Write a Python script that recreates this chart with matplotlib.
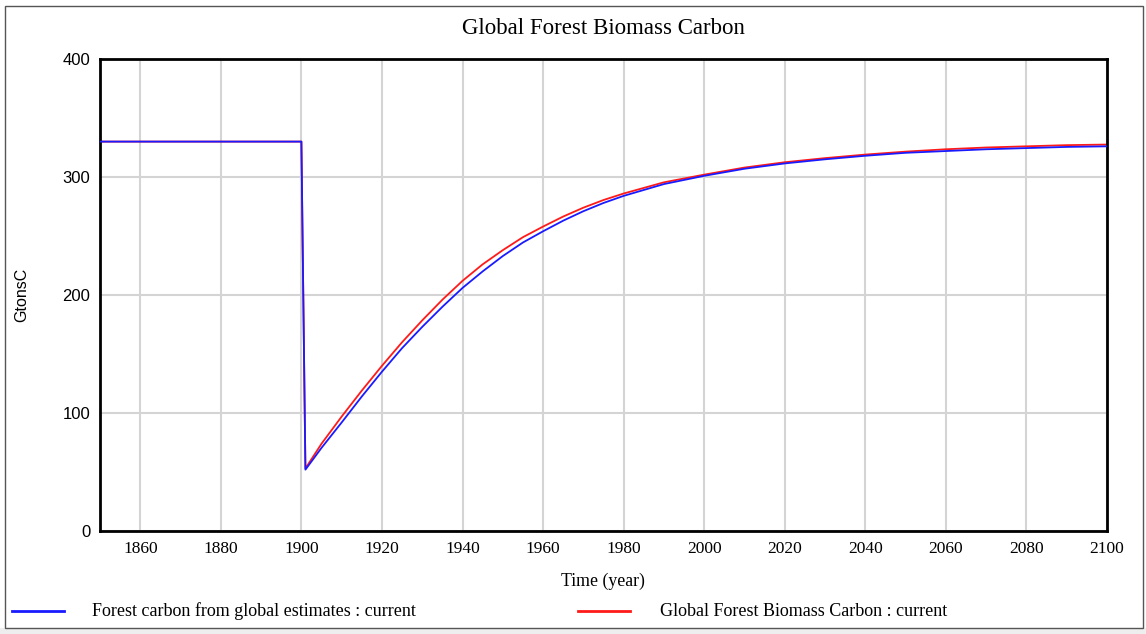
import matplotlib
matplotlib.use("Agg")
import matplotlib.pyplot as plt
from matplotlib.lines import Line2D
from matplotlib.patches import Rectangle

# Simulation output (GtonsC), sampled years
years = [1850, 1900, 1901, 1905, 1910, 1915, 1920, 1925, 1930, 1935, 1940,
         1945, 1950, 1955, 1960, 1965, 1970, 1975, 1980, 1990, 2000, 2010,
         2020, 2030, 2040, 2050, 2060, 2070, 2080, 2090, 2100]
forest_carbon_estimates = [330, 330, 52, 70.5, 92, 114, 135, 155, 173, 190, 206,
                           220, 233, 244.5, 254, 263, 271, 278, 284, 294, 301, 307,
                           311.5, 315, 318, 320.5, 322, 323.5, 324.5, 325.5, 326]
forest_biomass_carbon = [330, 330, 53, 74, 97, 119, 140, 160, 178.5, 196, 212,
                         226, 238, 249, 258, 266.5, 274, 280.5, 286, 295.5, 302, 308,
                         312.5, 316, 319, 321.5, 323.5, 325, 326, 327, 327.5]

x_ticks = [1860, 1880, 1900, 1920, 1940, 1960, 1980, 2000, 2020, 2040, 2060, 2080, 2100]
y_ticks = [0, 100, 200, 300, 400]

title = "Global Forest Biomass Carbon"
x_label = "Time (year)"
y_label = "GtonsC"
legend_labels = ["Forest carbon from global estimates : current",
                 "Global Forest Biomass Carbon : current"]
colors = ["#1a1aff", "#ff1a1a"]

serif = ["Liberation Serif", "DejaVu Serif"]
sans = ["Liberation Sans", "DejaVu Sans"]

W, H = 1146, 634
fig = plt.figure(figsize=(W / 100, H / 100), dpi=100)
fig.patch.set_facecolor("white")

# Light strip at the bottom and the frame around the chart panel
fig.patches.append(Rectangle((0, 0), 1, 6 / H, transform=fig.transFigure,
                             facecolor="#eeeeee", edgecolor="none", zorder=0))
fig.patches.append(Rectangle((5 / W, 6 / H), (1143 - 5) / W, (628 - 6) / H,
                             transform=fig.transFigure, facecolor="white",
                             edgecolor="#555555", linewidth=1.0, zorder=0))

ax = fig.add_axes([100 / W, 1 - 531 / H, (1107 - 100) / W, (531 - 59) / H])
ax.set_zorder(2)
ax.set_facecolor("white")

ax.plot(years, forest_carbon_estimates, color=colors[0], linewidth=1.3, zorder=3)
ax.plot(years, forest_biomass_carbon, color=colors[1], linewidth=1.3, zorder=2)

ax.set_xlim(1850, 2100)
ax.set_ylim(0, 400)
ax.set_xticks(x_ticks)
ax.set_yticks(y_ticks)
ax.set_xticklabels([str(t) for t in x_ticks], family=serif, fontsize=12.5)
ax.set_yticklabels([str(t) for t in y_ticks], family=sans, fontsize=12)
ax.tick_params(length=0, pad=7)
ax.grid(True, color="#d4d4d4", linewidth=1.5, zorder=0)
ax.set_axisbelow(True)
for sp in ax.spines.values():
    sp.set_linewidth(2.0)
    sp.set_color("black")

fig.text(603 / W, 1 - 28 / H, title, ha="center", va="center",
         family=serif, fontsize=16.5, zorder=3)
fig.text(603 / W, 1 - 581 / H, x_label, ha="center", va="center",
         family=serif, fontsize=12.8, zorder=3)
fig.text(22 / W, 1 - 295 / H, y_label, ha="center", va="center",
         rotation=90, family=sans, fontsize=11.5, zorder=3)

# Legend row
ly = 1 - 611 / H
for (x0, x1, tx), lab, c in zip([(12, 64, 92), (578, 630, 660)], legend_labels, colors):
    fig.lines.append(Line2D([x0 / W, x1 / W], [ly, ly], transform=fig.transFigure,
                            color=c, linewidth=2.0, zorder=3))
    fig.text(tx / W, ly, lab, ha="left", va="center", family=serif,
             fontsize=13, zorder=3)

fig.savefig("out.png", dpi=100)
